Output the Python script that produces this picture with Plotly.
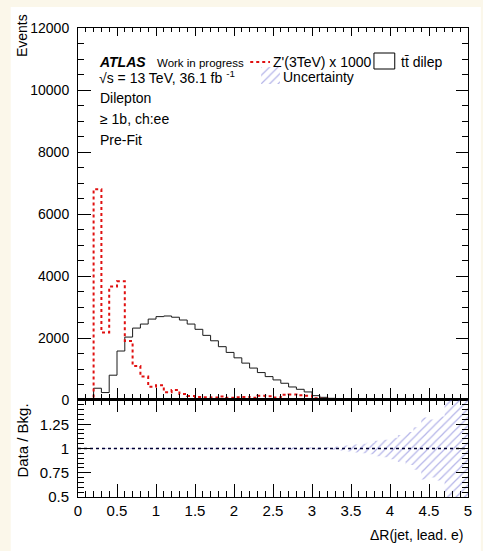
import numpy as np
import plotly.graph_objects as go

# ---------------- data ----------------
bin_edges = [round(0.1 * i, 1) for i in range(51)]

ttbar_dilep = [0, 0, 380, 240, 800, 1580, 2030, 2320, 2450, 2610,
               2690, 2710, 2670, 2580, 2450, 2280, 2085, 1910, 1720, 1535,
               1360, 1190, 1030, 885, 755, 648, 540, 420, 345, 260,
               140, 86, 54, 30, 20, 12, 8, 5, 3, 2,
               1, 1, 1, 0.5, 0.5, 0.5, 0.3, 0.3, 0.2, 0.2]

zprime_x1000 = [0, 0, 6800, 2180, 3660, 3830, 1900, 1100, 756, 430,
                475, 250, 320, 195, 130, 100, 90, 80, 110, 70,
                90, 100, 70, 140, 120, 80, 170, 180, 150, 140,
                60, 40, 25, 15, 10, 8, 5, 5, 3, 2,
                2, 1, 1, 1, 0, 0, 0, 0, 0, 0]

rel_uncertainty = [0, 0, 0.005, 0.005, 0.005, 0.005, 0.005, 0.005, 0.005, 0.005,
                   0.005, 0.005, 0.005, 0.005, 0.005, 0.005, 0.005, 0.005, 0.005, 0.005,
                   0.005, 0.005, 0.005, 0.005, 0.005, 0.008, 0.008, 0.008, 0.008, 0.008,
                   0.01, 0.01, 0.012, 0.02, 0.03, 0.04, 0.05, 0.06, 0.08, 0.09,
                   0.11, 0.14, 0.17, 0.22, 0.32, 0.30, 0.33, 0.8, 0.8, 0.8]

main_yticks = [0, 2000, 4000, 6000, 8000, 10000, 12000]
main_yticklabels = ["0", "2000", "4000", "6000", "8000", "10000", "12000"]
ratio_yticks = [0.5, 0.75, 1, 1.25, 1.5]
ratio_yticklabels = ["0.5", "0.75", "1", "1.25", " "]
x_ticks = [0, 0.5, 1, 1.5, 2, 2.5, 3, 3.5, 4, 4.5, 5]
x_ticklabels = ["0", "0.5", "1", "1.5", "2", "2.5", "3", "3.5", "4", "4.5", "5"]

# ---------------- layout geometry (pixels) ----------------
WIDTH, HEIGHT = 483, 551
L, R, T, B = 78, 472, 28, 497
SPLIT = 400
W, H = R - L, B - T


def px(x):
    return (x - L) / W


def py(y):
    return (B - y) / H


FONT = "Liberation Sans, Arial, Helvetica, sans-serif"
HATCH = "#6a6ad2"

edges = np.array(bin_edges)
step_x = np.append(edges[:-1], edges[-1])
tt = np.array(ttbar_dilep, dtype=float)
zp = np.array(zprime_x1000, dtype=float)

fig = go.Figure()

# ttbar histogram (step line)
fig.add_trace(go.Scatter(x=step_x, y=np.append(tt, tt[-1]), mode="lines",
                         line=dict(color="#1a1a1a", width=1, shape="hv"),
                         xaxis="x", yaxis="y", showlegend=False, hoverinfo="skip"))
# Z' x 1000 (red dotted)
fig.add_trace(go.Scatter(x=step_x, y=np.append(zp, zp[-1]), mode="lines",
                         line=dict(color="#e01010", width=2, shape="hv", dash="dot"),
                         xaxis="x", yaxis="y", showlegend=False, hoverinfo="skip"))

# ratio uncertainty band
ru = np.array(rel_uncertainty)
bx, up, lo = [], [], []
for i in range(len(ru)):
    if ru[i] <= 0:
        continue
    bx += [edges[i], edges[i + 1]]
    up += [1 + ru[i], 1 + ru[i]]
    lo += [1 - ru[i], 1 - ru[i]]
band_x = bx + bx[::-1] + [bx[0]]
band_y = up + lo[::-1] + [up[0]]
pattern = dict(shape="/", fgcolor=HATCH, bgcolor="rgba(0,0,0,0)", size=6, solidity=0.2)
fig.add_trace(go.Scatter(x=band_x, y=band_y, mode="lines", fill="toself",
                         line=dict(width=0, color="rgba(0,0,0,0)"),
                         fillcolor="rgba(0,0,0,0)", fillpattern=pattern,
                         xaxis="x2", yaxis="y2", showlegend=False, hoverinfo="skip"))
# ratio reference line at 1
fig.add_trace(go.Scatter(x=[edges[0], edges[-1]], y=[1, 1], mode="lines",
                         line=dict(color="#000033", width=1.5, dash="dot"),
                         xaxis="x2", yaxis="y2", showlegend=False, hoverinfo="skip"))

# legend key for uncertainty (hatched square on a hidden tiny axis)
fig.add_trace(go.Scatter(x=[0, 1, 1, 0, 0], y=[0, 0, 1, 1, 0], mode="lines", fill="toself",
                         line=dict(width=0, color="rgba(0,0,0,0)"),
                         fillcolor="rgba(0,0,0,0)", fillpattern=pattern,
                         xaxis="x3", yaxis="y3", showlegend=False, hoverinfo="skip"))

# empty traces so that the mirrored tick axes are drawn
for xa, ya in [("x4", "y"), ("x", "y4"), ("x5", "y2"), ("x2", "y5")]:
    fig.add_trace(go.Scatter(x=[None], y=[None], mode="lines", xaxis=xa, yaxis=ya,
                             showlegend=False, hoverinfo="skip"))

split_frac = py(SPLIT)

base = dict(showline=True, linecolor="black", linewidth=1, mirror=True,
            ticks="inside", tickcolor="black", tickwidth=1, showgrid=False,
            zeroline=False, tickfont=dict(family=FONT, size=14, color="black"))
mirror_ax = dict(showline=False, ticks="inside", tickcolor="black", tickwidth=1,
                 showgrid=False, zeroline=False, showticklabels=False)

x_minor = dict(dtick=0.1, tick0=0, ticks="inside", tickcolor="black")

fig.update_layout(
    width=WIDTH, height=HEIGHT,
    margin=dict(l=L, r=WIDTH - R, t=T, b=HEIGHT - B, pad=0),
    paper_bgcolor="#fbf7ea", plot_bgcolor="white",
    showlegend=False,
    xaxis=dict(base, domain=[0, 1], anchor="y", range=[0, 5],
               tickvals=x_ticks, showticklabels=False, ticklen=12,
               minor=dict(x_minor, ticklen=6)),
    yaxis=dict(base, domain=[split_frac, 1], anchor="x", range=[0, 12000],
               tickvals=main_yticks, ticktext=main_yticklabels, ticklen=13,
               ticklabelstandoff=5,
               minor=dict(dtick=500, tick0=0, ticklen=6, ticks="inside", tickcolor="black")),
    xaxis4=dict(mirror_ax, overlaying="x", side="top", anchor="y", range=[0, 5],
                tickvals=x_ticks, ticklen=8, minor=dict(x_minor, ticklen=4)),
    yaxis4=dict(mirror_ax, overlaying="y", side="right", anchor="x", range=[0, 12000],
                tickvals=main_yticks, ticklen=12,
                minor=dict(dtick=500, tick0=0, ticklen=6, ticks="inside", tickcolor="black")),
    xaxis2=dict(base, domain=[0, 1], anchor="y2", range=[0, 5],
                tickvals=x_ticks, ticktext=x_ticklabels, ticklen=13,
                tickfont=dict(family=FONT, size=15, color="black"),
                minor=dict(x_minor, ticklen=6)),
    yaxis2=dict(base, domain=[0, split_frac], anchor="x2", range=[0.5, 1.5],
                tickvals=ratio_yticks, ticktext=ratio_yticklabels, ticklen=13,
                ticklabelstandoff=5,
                tickfont=dict(family=FONT, size=15, color="black"),
                minor=dict(dtick=0.05, tick0=0.5, ticklen=6, ticks="inside", tickcolor="black")),
    xaxis5=dict(mirror_ax, overlaying="x2", side="top", anchor="y2", range=[0, 5],
                showline=True, linecolor="black", linewidth=2,
                tickvals=x_ticks, ticklen=12, minor=dict(x_minor, ticklen=5)),
    yaxis5=dict(mirror_ax, overlaying="y2", side="right", anchor="x2", range=[0.5, 1.5],
                tickvals=ratio_yticks, ticklen=12,
                minor=dict(dtick=0.05, tick0=0.5, ticklen=6, ticks="inside", tickcolor="black")),
    xaxis3=dict(domain=[px(263), px(282)], anchor="y3", range=[0, 1], visible=False,
                fixedrange=True),
    yaxis3=dict(domain=[py(84), py(67)], anchor="x3", range=[0, 1], visible=False,
                fixedrange=True),
)

# white panel behind the figure
fig.add_shape(type="rect", xref="paper", yref="paper",
              x0=px(10), x1=px(WIDTH + 2), y0=py(HEIGHT + 2), y1=py(7),
              fillcolor="white", line=dict(width=0), layer="below")

# legend glyphs
fig.add_shape(type="line", xref="paper", yref="paper",
              x0=px(252), x1=px(272), y0=py(62), y1=py(62),
              line=dict(color="#e01010", width=2, dash="dot"))
fig.add_shape(type="rect", xref="paper", yref="paper",
              x0=px(377), x1=px(398), y0=py(69), y1=py(53),
              fillcolor="white", line=dict(color="black", width=1))


def txt(text, x, y, size=14, xanchor="left", yanchor="middle", angle=0):
    fig.add_annotation(text=text, x=px(x), y=py(y), xref="paper", yref="paper",
                       xanchor=xanchor, yanchor=yanchor, showarrow=False, textangle=angle,
                       font=dict(family=FONT, size=size, color="black"))


txt("<b><i>ATLAS</i></b>", 97, 62, size=14)
txt("Work in progress", 156, 63, size=11.5)
txt("Z'(3TeV) x 1000", 273, 62, size=14)
txt("tt\u0304 dilep", 402, 62, size=14)
txt("\u221as = 13 TeV, 36.1 fb <sup>-1</sup>", 97, 77, size=14)
txt("Uncertainty", 283, 77, size=14)
txt("Dilepton", 98, 98, size=14)
txt("\u2265 1b, ch:ee", 98, 119, size=14)
txt("Pre-Fit", 98, 140, size=14)

txt("Events", 21, 12, size=14, xanchor="center", yanchor="top", angle=-90)
txt("Data / Bkg.", 21, 441, size=15, xanchor="center", yanchor="middle", angle=-90)
txt("\u0394R(jet, lead. e)", 469, 535, size=14, xanchor="right", yanchor="middle")

fig.write_html("out.html")
